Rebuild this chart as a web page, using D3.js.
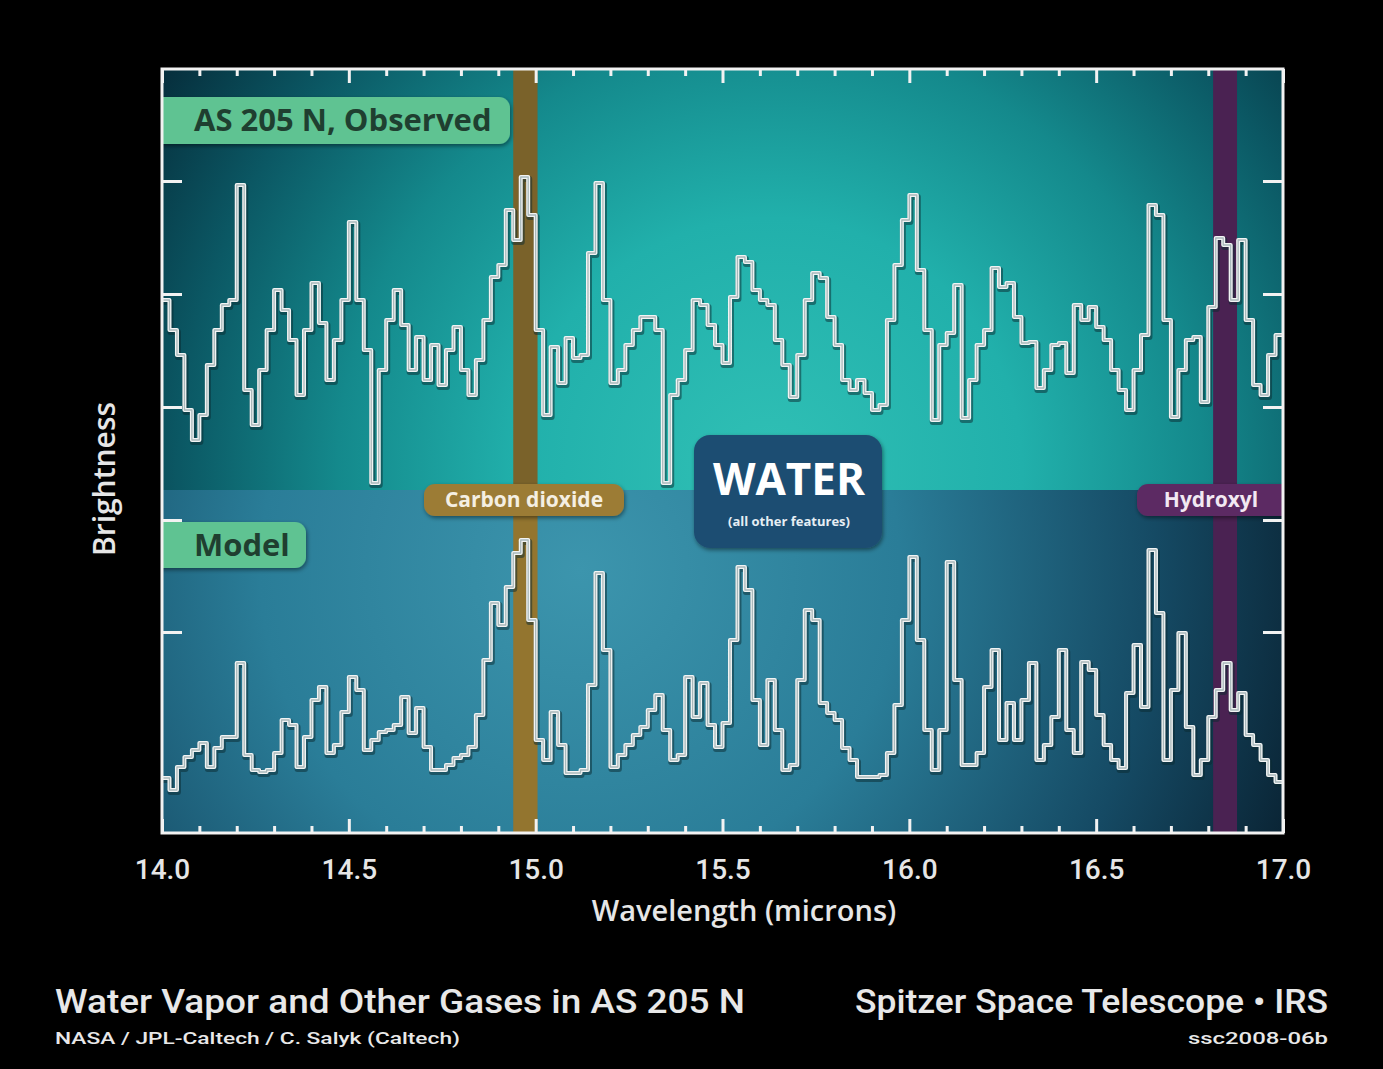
<!DOCTYPE html>
<html>
<head>
<meta charset="utf-8">
<script src="https://cdn.jsdelivr.net/npm/d3@7"></script>
<style>
  html, body { margin: 0; padding: 0; background: #000; }
  svg { display: block; }
  .tick-label { font-family: Roboto, "DejaVu Sans", sans-serif; font-weight: 500; fill: #e6e6e6; }
  .axis-title { font-family: "Open Sans", sans-serif; font-weight: 600; fill: #e6e6e6; }
  .box-label { font-family: "Open Sans", sans-serif; font-weight: 700; }
  .credit { font-family: Roboto, sans-serif; fill: #e8e8e8; }
</style>
</head>
<body>
<div id="chart"></div>
<script>
// spectrum bins, 0.02 micron wide, starting at 14.0
const binStart = 14.0;
const binWidth = 0.02;

const observed = [
  533, 503, 478, 423, 393, 418, 468, 503, 528, 533,
  648, 443, 408, 463, 503, 543, 523, 493, 438, 503,
  550, 510, 453, 493, 533, 611, 533, 483, 350, 463,
  513, 543, 508, 463, 496, 453, 488, 448, 483, 506,
  463, 438, 473, 513, 556, 568, 623, 593, 656, 618,
  503, 418, 486, 450, 495, 475, 478, 580, 650, 533,
  450, 463, 488, 503, 516, 516, 503, 350, 438, 453,
  483, 533, 528, 508, 488, 470, 536, 576, 571, 543,
  533, 528, 493, 468, 436, 478, 533, 560, 555, 516,
  488, 453, 443, 453, 440, 423, 428, 513, 568, 613,
  638, 563, 503, 413, 488, 500, 548, 415, 453, 488,
  503, 565, 546, 550, 516, 490, 491, 445, 463, 488,
  490, 460, 528, 513, 526, 506, 493, 463, 443, 423,
  463, 498, 628, 618, 513, 416, 463, 493, 496, 431,
  526, 595, 588, 533, 593, 513, 448, 438, 478, 498
];

const model = [
  55, 43, 66, 76, 83, 90, 66, 85, 96, 96,
  170, 78, 63, 61, 63, 80, 113, 108, 66, 96,
  133, 146, 80, 88, 121, 156, 143, 83, 93, 101,
  103, 108, 136, 100, 125, 86, 63, 63, 68, 75,
  78, 86, 118, 173, 230, 208, 246, 280, 293, 213,
  93, 73, 121, 88, 60, 60, 63, 148, 260, 183,
  66, 78, 88, 98, 106, 123, 138, 103, 73, 78,
  156, 116, 150, 108, 86, 110, 193, 266, 243, 133,
  88, 153, 103, 63, 68, 153, 223, 213, 130, 120,
  113, 85, 73, 56, 56, 56, 58, 80, 128, 213,
  276, 193, 103, 63, 103, 271, 153, 68, 68, 80,
  146, 183, 93, 130, 93, 133, 170, 73, 88, 116,
  183, 103, 80, 171, 163, 118, 88, 73, 65, 140,
  188, 126, 283, 220, 73, 143, 200, 106, 58, 73,
  116, 143, 170, 123, 140, 98, 88, 73, 58, 51
];

const xMajorTicks = [14.0, 14.5, 15.0, 15.5, 16.0, 16.5, 17.0];
const xMinorTicks = [14.1, 14.2, 14.3, 14.4, 14.6, 14.7, 14.8, 14.9, 15.1, 15.2, 15.3, 15.4,
  15.6, 15.7, 15.8, 15.9, 16.1, 16.2, 16.3, 16.4, 16.6, 16.7, 16.8, 16.9];
const yTicks = [201, 313, 426, 539, 652];

// features marked on the plot
const co2Band = [14.94, 15.005];
const ohBand = [16.813, 16.877];
const splitLevel = 343;   // brightness where the observed / model panels meet

const W = 1383, H = 1069;

const svg = d3.select("#chart").append("svg")
  .attr("width", W).attr("height", H);

svg.append("rect").attr("width", W).attr("height", H).attr("fill", "#000");

const x = d3.scaleLinear().domain([14, 17]).range([162, 1283]);
const y = d3.scaleLinear().domain([0, 764]).range([833, 69]);

const defs = svg.append("defs");

const gTop = defs.append("radialGradient").attr("id", "gTop")
  .attr("gradientUnits", "userSpaceOnUse")
  .attr("cx", 770).attr("cy", 470).attr("r", 720);
gTop.append("stop").attr("offset", 0).attr("stop-color", "#30c0b5");
gTop.append("stop").attr("offset", 0.35).attr("stop-color", "#21b0ab");
gTop.append("stop").attr("offset", 0.6).attr("stop-color", "#14898c");
gTop.append("stop").attr("offset", 0.82).attr("stop-color", "#0b5864");
gTop.append("stop").attr("offset", 1).attr("stop-color", "#06303e");

const gBot = defs.append("radialGradient").attr("id", "gBot")
  .attr("gradientUnits", "userSpaceOnUse")
  .attr("cx", 580).attr("cy", 570).attr("r", 800);
gBot.append("stop").attr("offset", 0).attr("stop-color", "#3c95ad");
gBot.append("stop").attr("offset", 0.4).attr("stop-color", "#2a7d98");
gBot.append("stop").attr("offset", 0.72).attr("stop-color", "#154a64");
gBot.append("stop").attr("offset", 1).attr("stop-color", "#071a28");

defs.append("clipPath").attr("id", "plotClip")
  .append("rect")
  .attr("x", x(14)).attr("y", y(764))
  .attr("width", x(17) - x(14)).attr("height", y(0) - y(764));

const shadow = defs.append("filter").attr("id", "shadow")
  .attr("x", "-10%").attr("y", "-10%").attr("width", "120%").attr("height", "130%");
shadow.append("feDropShadow").attr("dx", 1).attr("dy", 2).attr("stdDeviation", 2)
  .attr("flood-color", "#000").attr("flood-opacity", 0.45);

const plot = svg.append("g").attr("clip-path", "url(#plotClip)");

// panel backgrounds
plot.append("rect")
  .attr("x", x(14)).attr("y", y(764))
  .attr("width", x(17) - x(14)).attr("height", y(splitLevel) - y(764))
  .attr("fill", "url(#gTop)");
plot.append("rect")
  .attr("x", x(14)).attr("y", y(splitLevel))
  .attr("width", x(17) - x(14)).attr("height", y(0) - y(splitLevel))
  .attr("fill", "url(#gBot)");

// molecule bands
plot.append("rect")
  .attr("x", x(co2Band[0])).attr("width", x(co2Band[1]) - x(co2Band[0]))
  .attr("y", y(764)).attr("height", y(splitLevel) - y(764))
  .attr("fill", "#7a622a");
plot.append("rect")
  .attr("x", x(co2Band[0])).attr("width", x(co2Band[1]) - x(co2Band[0]))
  .attr("y", y(splitLevel)).attr("height", y(0) - y(splitLevel))
  .attr("fill", "#93752f");
plot.append("rect")
  .attr("x", x(ohBand[0])).attr("width", x(ohBand[1]) - x(ohBand[0]))
  .attr("y", y(764)).attr("height", y(0) - y(764))
  .attr("fill", "#4a2252");

// spectra
function toSteps(values) {
  const pts = values.map((v, i) => ({ w: binStart + i * binWidth, v: v }));
  pts.push({ w: binStart + values.length * binWidth, v: values[values.length - 1] });
  return pts;
}

const line = d3.line()
  .x(d => x(d.w))
  .y(d => y(d.v))
  .curve(d3.curveStepAfter);

[observed, model].forEach(series => {
  const pts = toSteps(series);
  plot.append("path").datum(pts)
    .attr("d", line).attr("fill", "none")
    .attr("stroke", "#0a2a30").attr("stroke-opacity", 0.5)
    .attr("stroke-width", 6).attr("stroke-linejoin", "round")
    .attr("transform", "translate(1,2)");
  plot.append("path").datum(pts)
    .attr("d", line).attr("fill", "none")
    .attr("stroke", "#f2f4f4").attr("stroke-width", 4)
    .attr("stroke-linejoin", "round");
  plot.append("path").datum(pts)
    .attr("d", line).attr("fill", "none")
    .attr("stroke", "#a9b8ba").attr("stroke-width", 1.3)
    .attr("stroke-linejoin", "round");
});

// labels inside plot
function labelBox(x0, y0, w, h, fill, text, tx, size, color, anchor) {
  const g = plot.append("g");
  g.append("rect").attr("x", x0).attr("y", y0).attr("width", w).attr("height", h)
    .attr("rx", 11).attr("fill", fill).attr("filter", "url(#shadow)");
  g.append("text").attr("class", "box-label")
    .attr("x", tx).attr("y", y0 + h / 2).attr("dy", "0.35em")
    .attr("text-anchor", anchor).attr("font-size", size).attr("fill", color)
    .text(text);
}

labelBox(x(14) - 20, 97, 368, 47, "#5ec392", "AS 205 N, Observed", 194, 31, "#1f3f30", "start");
labelBox(x(14) - 20, 522, 164, 46, "#5ec392", "Model", 194, 31, "#1f3f30", "start");
labelBox(424, 484, 200, 32, "#9c7c36", "Carbon dioxide", 524, 21, "#f4efe2", "middle");
labelBox(1137, 484, 170, 32, "#5c2b63", "Hydroxyl", 1211, 21, "#f2e8f2", "middle");

const water = plot.append("g");
water.append("rect").attr("x", 694).attr("y", 435).attr("width", 188).attr("height", 113)
  .attr("rx", 16).attr("fill", "#1e4e72").attr("filter", "url(#shadow)");
water.append("text").attr("class", "box-label")
  .attr("x", 789).attr("y", 495).attr("text-anchor", "middle")
  .attr("font-size", 44).attr("fill", "#fff").text("WATER");
water.append("text").attr("class", "box-label")
  .attr("x", 789).attr("y", 526).attr("text-anchor", "middle")
  .attr("font-size", 13).attr("font-weight", 600).attr("fill", "#e6eef4")
  .text("(all other features)");

// frame and inward ticks
const tickStyle = sel => {
  sel.select(".domain").remove();
  sel.selectAll("text").remove();
  sel.selectAll("line").attr("stroke", "#f2f2f2").attr("stroke-width", 3);
};

svg.append("g").attr("transform", `translate(0,${y(0)})`)
  .call(d3.axisTop(x).tickValues(xMajorTicks).tickSize(14)).call(tickStyle);
svg.append("g").attr("transform", `translate(0,${y(0)})`)
  .call(d3.axisTop(x).tickValues(xMinorTicks).tickSize(7)).call(tickStyle);
svg.append("g").attr("transform", `translate(0,${y(764)})`)
  .call(d3.axisBottom(x).tickValues(xMajorTicks).tickSize(14)).call(tickStyle);
svg.append("g").attr("transform", `translate(0,${y(764)})`)
  .call(d3.axisBottom(x).tickValues(xMinorTicks).tickSize(7)).call(tickStyle);
svg.append("g").attr("transform", `translate(${x(14)},0)`)
  .call(d3.axisRight(y).tickValues(yTicks).tickSize(20)).call(tickStyle);
svg.append("g").attr("transform", `translate(${x(17)},0)`)
  .call(d3.axisLeft(y).tickValues(yTicks).tickSize(20)).call(tickStyle);

svg.append("rect")
  .attr("x", x(14)).attr("y", y(764))
  .attr("width", x(17) - x(14)).attr("height", y(0) - y(764))
  .attr("fill", "none").attr("stroke", "#f2f2f2").attr("stroke-width", 3);

// tick labels
const xLabels = svg.append("g").attr("transform", `translate(0,${y(0)})`)
  .call(d3.axisBottom(x).tickValues(xMajorTicks).tickSize(0).tickPadding(46)
    .tickFormat(d3.format(".1f")));
xLabels.select(".domain").remove();
xLabels.selectAll("text").attr("class", "tick-label").attr("font-size", 28)
  .attr("fill", "#e6e6e6").attr("dy", 0);

svg.append("text").attr("class", "axis-title")
  .attr("x", 744).attr("y", 921).attr("text-anchor", "middle")
  .attr("font-size", 29).text("Wavelength (microns)");

svg.append("text").attr("class", "axis-title")
  .attr("transform", "translate(115,479) rotate(-90)")
  .attr("text-anchor", "middle").attr("font-size", 30).attr("font-weight", 700)
  .text("Brightness");

// credits
svg.append("text").attr("class", "credit")
  .attr("x", 55).attr("y", 1013).attr("font-size", 33).attr("font-weight", 500)
  .attr("textLength", 690).attr("lengthAdjust", "spacingAndGlyphs")
  .text("Water Vapor and Other Gases in AS 205 N");
svg.append("text").attr("class", "credit")
  .attr("x", 55).attr("y", 1044).attr("font-size", 17).attr("font-weight", 500)
  .attr("textLength", 405).attr("lengthAdjust", "spacingAndGlyphs")
  .text("NASA / JPL-Caltech / C. Salyk (Caltech)");
svg.append("text").attr("class", "credit")
  .attr("x", 1328).attr("y", 1013).attr("text-anchor", "end")
  .attr("font-size", 33).attr("font-weight", 500)
  .attr("textLength", 473).attr("lengthAdjust", "spacingAndGlyphs")
  .text("Spitzer Space Telescope \u2022 IRS");
svg.append("text").attr("class", "credit")
  .attr("x", 1328).attr("y", 1044).attr("text-anchor", "end")
  .attr("font-size", 16).attr("font-weight", 500).attr("fill", "#cfcfcf")
  .attr("textLength", 140).attr("lengthAdjust", "spacingAndGlyphs")
  .text("ssc2008-06b");
</script>
</body>
</html>
